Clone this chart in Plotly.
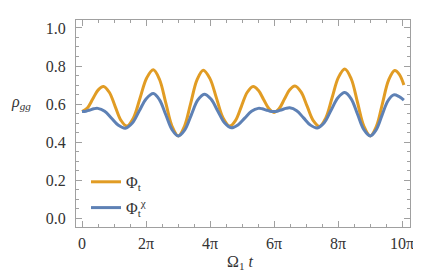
import math
import plotly.graph_objects as go

# Phi_t (orange)
t_phi = [0, 0.525, 1.05, 1.575, 2.1, 2.675, 3.25, 3.825, 4.4, 5.05, 5.7, 6.35, 7.0,
         7.61, 8.225, 8.84, 9.45, 10.06, 10.675, 11.29, 11.9, 12.55, 13.2, 13.85, 14.5,
         15.075, 15.65, 16.225, 16.8, 17.31, 17.825, 18.34, 18.85, 19.36, 19.875, 20.39,
         20.9, 21.5, 22.1, 22.7, 23.3, 23.925, 24.55, 25.175, 25.8, 26.425, 27.05, 27.675,
         28.3, 28.9, 29.5, 30.1, 30.7, 31.15, 31.6]
rho_phi = [0.560, 0.579, 0.626, 0.673, 0.692, 0.662, 0.588, 0.514, 0.484, 0.527, 0.632, 0.737, 0.780,
           0.729, 0.606, 0.483, 0.432, 0.483, 0.605, 0.727, 0.778, 0.735, 0.631, 0.527, 0.484,
           0.514, 0.588, 0.662, 0.692, 0.672, 0.624, 0.576, 0.556, 0.576, 0.626, 0.675,
           0.695, 0.664, 0.589, 0.513, 0.482, 0.526, 0.633, 0.740, 0.784, 0.733, 0.608, 0.483,
           0.432, 0.482, 0.604, 0.726, 0.776, 0.756, 0.700]

# Phi_t^chi (blue)
t_chi = [0, 0.39, 0.775, 1.16, 1.55, 2.225, 2.9, 3.575, 4.25, 4.94, 5.625, 6.31, 7.0,
         7.61, 8.225, 8.84, 9.45, 10.09, 10.725, 11.36, 12.0, 12.66, 13.325, 13.99, 14.65,
         15.31, 15.975, 16.64, 17.3, 17.69, 18.075, 18.46, 18.85, 19.24, 19.625, 20.01, 20.4,
         21.075, 21.75, 22.425, 23.1, 23.775, 24.45, 25.125, 25.8, 26.425, 27.05, 27.675,
         28.3, 28.875, 29.45, 30.025, 30.6, 31.1, 31.6]
rho_chi = [0.560, 0.562, 0.5685, 0.575, 0.577, 0.562, 0.525, 0.488, 0.473, 0.500, 0.564, 0.628, 0.655,
           0.622, 0.5435, 0.465, 0.432, 0.464, 0.542, 0.620, 0.652, 0.626, 0.5635, 0.501, 0.475,
           0.490, 0.526, 0.562, 0.577, 0.575, 0.5685, 0.562, 0.560, 0.563, 0.570, 0.577, 0.580,
           0.565, 0.527, 0.489, 0.474, 0.501, 0.567, 0.633, 0.660, 0.627, 0.546, 0.465,
           0.432, 0.464, 0.540, 0.616, 0.648, 0.640, 0.620]

x_tick_vals = [0, 2 * math.pi, 4 * math.pi, 6 * math.pi, 8 * math.pi, 10 * math.pi]
x_tick_text = ["0", "2π", "4π", "6π", "8π", "10π"]
y_tick_vals = [0.0, 0.2, 0.4, 0.6, 0.8, 1.0]

ORANGE = "#E19C24"
BLUE = "#5E81B5"
FRAME = "#A0A0A0"
TEXT = "#333333"
FONT = "Times New Roman, Liberation Serif, serif"

fig = go.Figure()
fig.add_trace(go.Scatter(x=t_phi, y=rho_phi, mode="lines", name="Φ<sub>t</sub>",
                         legendgroup="a",
                         line=dict(color=ORANGE, width=3, shape="spline", smoothing=1.0)))
fig.add_trace(go.Scatter(x=t_chi, y=rho_chi, mode="lines", name="Φ<sub>t</sub><sup>χ</sup>",
                         legendgroup="b",
                         line=dict(color=BLUE, width=3, shape="spline", smoothing=1.0)))

axis_common = dict(showline=True, linecolor=FRAME, linewidth=1, mirror="allticks",
                   ticks="inside", tickcolor=FRAME, ticklen=6, tickwidth=1,
                   showgrid=False, zeroline=False, automargin=False,
                   tickfont=dict(family=FONT, size=16, color=TEXT))

fig.update_xaxes(range=[-0.59, 32.2], tickvals=x_tick_vals, ticktext=x_tick_text,
                 ticklabelstandoff=2,
                 minor=dict(dtick=math.pi / 2, tick0=0, ticks="inside", ticklen=3,
                            tickcolor=FRAME, showgrid=False),
                 **axis_common)
fig.update_yaxes(range=[-0.047, 1.042], tickvals=y_tick_vals, tickformat=".1f",
                 ticklabelstandoff=6,
                 minor=dict(dtick=0.05, tick0=0, ticks="inside", ticklen=3,
                            tickcolor=FRAME, showgrid=False),
                 **axis_common)

# the page body adds an 8px offset; margins compensate for it
fig.update_layout(
    width=421, height=273,
    margin=dict(l=68, r=19, t=12, b=54),
    paper_bgcolor="white", plot_bgcolor="white",
    font=dict(family=FONT),
    showlegend=True,
    legend=dict(x=0.03, y=0.3, xanchor="left", yanchor="top",
                bgcolor="rgba(0,0,0,0)", font=dict(family=FONT, size=16, color=TEXT),
                itemwidth=30, tracegroupgap=2),
    annotations=[
        dict(text="<i>ρ</i><sub><i>gg</i></sub>", xref="paper", yref="paper",
             x=-0.165, y=0.6, showarrow=False, xanchor="center", yanchor="middle",
             font=dict(family=FONT, size=16, color=TEXT)),
        dict(text="Ω<sub>1</sub> <i>t</i>", xref="paper", yref="paper",
             x=0.49, y=-0.17, showarrow=False, xanchor="center", yanchor="middle",
             font=dict(family=FONT, size=16, color=TEXT)),
    ],
)

fig.write_html("out.html")
